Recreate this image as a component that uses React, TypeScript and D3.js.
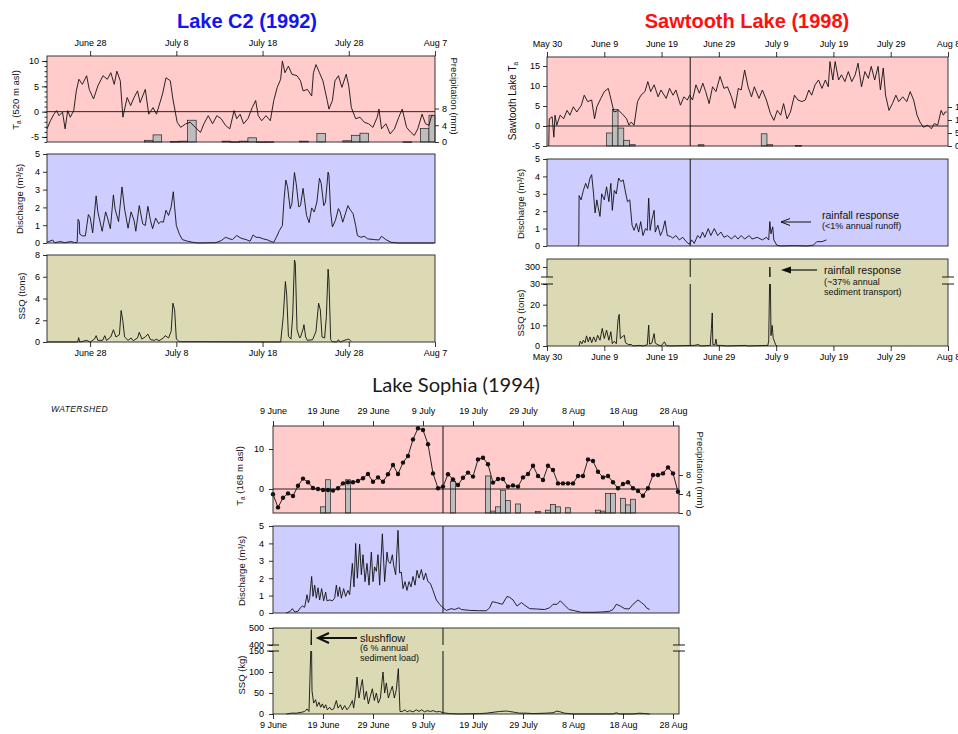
import React, { useEffect, useRef } from "react";
import * as d3 from "d3";

type Pt = [number, number];
const FONT = "'Liberation Sans', Arial, sans-serif";

// ---------- Lake C2 (1992): x = days after June 23 ----------
const c2TickDays = [5, 15, 25, 35, 45];
const c2TickLabels = ["June 28", "July 8", "July 18", "July 28", "Aug 7"];
const c2Temp: Pt[] = [[0,-3.4],[0.4,-1.8],[0.8,-0.5],[1.1,0.2],[1.4,-0.8],[1.8,-0.1],[2.1,-3.4],[2.4,0.2],[2.7,-1.1],[3.1,0.2],[3.4,4.1],[3.7,6.4],[4.1,5.4],[4.6,7.1],[4.9,4.4],[5.4,2.5],[5.9,5.1],[6.5,7.1],[7.0,6.4],[7.4,7.7],[7.8,5.4],[8.1,8.0],[8.5,6.1],[8.8,-1.1],[9.3,2.8],[9.7,1.2],[10.1,2.8],[10.5,4.1],[10.8,1.8],[11.4,4.4],[11.8,-0.5],[12.3,0.8],[12.7,-0.5],[13.4,3.5],[13.8,6.7],[14.3,6.1],[14.6,2.5],[15.1,-2.1],[15.5,-3.1],[16.1,-2.4],[16.6,-2.1],[17.2,-3.1],[17.8,-4.1],[18.2,-2.4],[18.7,-0.8],[19.2,-2.4],[19.7,-0.8],[20.2,-1.4],[20.7,-2.7],[21.2,-3.4],[21.7,0.2],[22.0,-1.4],[22.4,-0.5],[22.8,-2.4],[23.3,-1.4],[23.8,0.8],[24.2,2.2],[24.5,-0.8],[24.9,-1.8],[25.4,-0.8],[25.9,-1.8],[26.3,2.2],[26.7,4.8],[27.1,6.4],[27.3,10.0],[27.6,7.7],[28.0,9.0],[28.4,7.4],[29.0,7.1],[29.4,6.1],[29.7,4.1],[30.2,4.4],[30.7,3.1],[30.9,7.7],[31.2,9.3],[31.6,7.7],[32.0,6.1],[32.5,2.2],[32.7,0.5],[33.1,2.2],[33.4,6.1],[33.8,7.1],[34.2,4.8],[34.7,7.4],[35.0,5.1],[35.3,0.8],[35.8,-1.4],[36.3,-1.1],[36.8,-2.1],[37.3,-2.4],[37.8,-3.1],[38.3,-1.1],[38.5,0.5],[38.8,-3.4],[39.3,-2.4],[39.8,-4.4],[40.3,-3.4],[40.8,-1.1],[41.2,0.5],[41.7,-3.1],[42.2,-4.1],[42.6,-4.7],[43.0,-3.4],[43.5,-0.5],[43.9,-2.4],[44.3,-2.7],[44.6,-0.8],[44.8,-0.8]];
// [bar start day, mm]
const c2Precip: Pt[] = [[11.3,0.4],[12.3,1.7],[14.3,0.1],[15.3,0.2],[16.3,5.2],[20.3,0.2],[21.3,0.05],[22.3,0.2],[23.3,1.0],[24.3,0.05],[25.3,0.05],[29.3,0.2],[31.3,2.0],[34.3,0.3],[35.3,1.6],[36.3,2.1],[41.3,0.05],[43.3,3.2],[44.3,6.4]];
const c2Q: Pt[] = [[0,0.04],[0.66,0.17],[0.85,0.02],[1.6,0.08],[2.0,0.02],[2.8,0.08],[3.2,0.02],[3.5,0.04],[3.6,1.33],[3.75,1.2],[3.8,0.5],[4.1,0.4],[4.45,0.4],[4.8,1.6],[5.0,1.45],[5.3,0.57],[5.7,2.65],[5.9,1.75],[6.4,0.66],[6.8,1.75],[7.0,1.45],[7.35,0.8],[7.7,2.7],[7.9,1.9],[8.3,1.2],[8.7,3.15],[9.0,1.9],[9.4,0.83],[9.75,1.75],[10.1,1.27],[10.3,0.66],[10.7,2.1],[11.1,1.08],[11.4,0.98],[11.7,2.06],[12.0,1.27],[12.25,0.8],[12.6,1.4],[12.95,1.08],[13.2,1.2],[13.5,1.17],[13.8,1.84],[14.1,1.55],[14.4,2.03],[14.65,2.88],[14.8,2.03],[15.0,0.98],[15.35,0.5],[15.7,0.19],[16.3,0.1],[16.9,0.04],[17.5,0],[19.6,0.02],[20.2,0.13],[20.7,0.32],[21.2,0.23],[21.5,0.19],[22.0,0.42],[22.5,0.27],[23.1,0.19],[23.55,0.1],[23.9,0.45],[24.25,0.32],[24.6,0.32],[25.1,0.23],[25.6,0.17],[26.0,0.08],[26.3,0.04],[26.6,0.32],[26.95,0.7],[27.3,0.98],[27.5,2.5],[27.7,3.54],[27.9,3.16],[28.2,1.93],[28.4,2.2],[28.7,3.96],[28.9,3.35],[29.2,2.03],[29.4,2.1],[29.7,3.07],[29.85,2.5],[30.1,1.55],[30.4,1.14],[30.7,1.97],[31.0,1.74],[31.3,2.3],[31.6,3.64],[31.8,3.35],[32.1,2.1],[32.3,2.3],[32.6,3.98],[32.7,3.8],[32.9,1.74],[33.1,0.9],[33.45,1.27],[33.8,1.93],[34.0,1.74],[34.3,1.17],[34.9,2.1],[35.2,1.84],[35.5,1.65],[35.8,0.98],[36.0,0.42],[36.4,0.32],[36.8,0.38],[37.2,0.23],[38.0,0.19],[38.5,0.17],[38.8,0.38],[39.3,0.19],[39.9,0.04],[40.7,0],[44.9,0]];
const c2SSQ: Pt[] = [[0,0],[3.56,0],[3.67,0.4],[3.8,0],[4.6,0.15],[5.0,0],[5.5,0.27],[5.7,0.58],[5.9,0.15],[6.45,0.15],[6.7,0.58],[6.9,0.15],[7.4,0.46],[7.7,1.13],[8.0,0.46],[8.4,0.67],[8.6,2.9],[8.8,1.9],[9.0,0.46],[9.4,0.15],[9.75,0.37],[10.0,0.12],[10.5,0.37],[10.7,0.89],[11.0,0.27],[11.4,0.46],[11.7,0.73],[12.0,0.21],[12.5,0.15],[12.65,0.27],[13.0,0.12],[13.5,0.37],[13.7,0.58],[14.1,0.37],[14.4,0.98],[14.6,3.57],[14.8,2.96],[15.0,0.27],[15.35,0.03],[27.1,0],[27.4,2.35],[27.65,5.56],[27.8,4.34],[28.0,0.52],[28.3,0.27],[28.5,2.5],[28.7,7.54],[28.8,7.24],[29.0,1.13],[29.3,0.37],[29.4,0.46],[29.7,1.19],[29.8,1.59],[30.0,0.46],[30.2,0.15],[30.8,0.21],[31.2,0.98],[31.5,3.57],[31.7,2.96],[31.9,0.46],[32.2,0.37],[32.4,2.35],[32.6,6.69],[32.7,5.7],[32.9,0.21],[33.1,0.03],[33.6,0],[33.8,0.21],[34.0,0],[34.7,0.21],[35.0,0.27],[35.3,0.03]];

// ---------- Sawtooth Lake (1998): x = days after May 30 ----------
const swTickDays = [0, 10, 20, 30, 40, 50, 60, 70];
const swTickLabels = ["May 30", "June 9", "June 19", "June 29", "July 9", "July 19", "July 29", "Aug 8"];
const swMarkDay = 25;
const swTemp: Pt[] = [[0.3,-5],[0.4,1.8],[0.9,2.3],[1.2,-2.8],[1.4,2.7],[1.7,0.2],[2.3,2.7],[2.9,1.8],[3.5,3.9],[4.0,2.7],[4.6,4.8],[5.2,3.5],[6.0,5.2],[6.5,7.7],[7.1,6.1],[7.8,6.5],[8.3,1.8],[8.7,4.8],[9.4,6.9],[10.0,8.6],[10.7,9.4],[11.2,6.5],[11.7,3.5],[12.5,3.9],[13.1,3.1],[13.9,1.8],[14.3,0.2],[14.7,1.0],[15.2,0.2],[15.8,6.1],[16.4,7.7],[17.1,8.6],[17.6,11.1],[18.1,8.6],[18.7,10.3],[19.4,7.3],[19.9,9.0],[20.8,6.9],[21.4,9.4],[22.0,7.7],[22.5,9.0],[23.3,5.2],[23.9,7.3],[24.5,6.5],[24.9,7.7],[25.4,6.5],[26.0,10.3],[26.6,8.2],[27.2,10.7],[27.7,8.6],[28.3,5.6],[28.9,9.8],[29.5,8.6],[30.2,12.4],[30.9,9.4],[31.5,9.8],[32.2,7.3],[32.8,4.4],[33.4,9.4],[33.9,9.0],[34.5,14.0],[35.1,9.8],[35.7,7.3],[36.2,9.8],[37.0,6.9],[37.6,9.0],[38.3,6.5],[39.0,3.1],[39.6,1.4],[40.2,3.9],[40.8,2.7],[41.3,5.6],[41.9,1.8],[42.5,3.5],[43.2,7.7],[43.8,6.5],[44.5,6.1],[45.1,6.5],[45.7,9.0],[46.2,7.7],[46.8,10.3],[47.4,11.5],[48.0,9.4],[48.6,11.5],[49.1,9.8],[49.4,16.1],[49.9,11.5],[50.3,16.1],[50.9,11.5],[51.4,12.8],[52.0,11.1],[52.6,13.6],[53.2,11.1],[53.8,12.8],[54.3,15.7],[54.9,9.8],[55.5,13.6],[56.1,11.9],[56.6,14.9],[57.2,11.5],[57.8,14.9],[58.2,9.0],[58.7,14.5],[59.1,7.7],[59.7,3.9],[60.3,5.6],[60.9,7.7],[61.4,6.1],[62.1,7.3],[62.8,6.1],[63.4,8.6],[64.0,6.5],[64.6,2.7],[65.1,1.0],[65.7,-0.3],[66.5,0.2],[67.1,-0.7],[67.6,0.6],[68.2,0.2],[68.8,3.9],[69.2,2.7],[69.5,3.5],[69.8,3.5]];
const swPrecip: Pt[] = [[10.4,5],[11.4,14.1],[12.4,6.9],[13.4,2.2],[14.4,0.5],[26.4,0.5],[37.4,4.7],[38.4,0.5],[43.4,0.15]];
const swQ: Pt[] = [[5.4,0],[5.55,0.1],[5.6,2.9],[5.95,2.65],[6.35,3.2],[6.75,3.6],[7.1,3.3],[7.5,3.9],[7.8,4.1],[8.1,3.1],[8.4,1.9],[8.7,2.65],[8.95,2.2],[9.25,1.7],[9.55,3.0],[10.0,2.65],[10.4,3.4],[10.8,2.55],[11.15,3.6],[11.4,2.05],[11.75,3.2],[12.1,3.0],[12.5,3.9],[12.9,3.7],[13.3,3.8],[13.7,3.1],[14.05,2.55],[14.45,2.65],[14.85,1.2],[15.2,0.9],[15.6,1.3],[16.0,0.8],[16.35,1.4],[16.75,0.6],[17.2,1.0],[17.5,0.9],[17.75,2.75],[18.0,0.9],[18.3,1.5],[18.7,2.05],[18.9,0.8],[19.35,1.2],[19.8,0.6],[20.2,0.9],[20.6,1.45],[21.0,0.6],[21.55,0.55],[21.95,0.45],[22.5,0.6],[23.1,0.35],[23.7,0.5],[24.3,0.25],[24.85,0.1],[25.25,0.35],[25.7,0.15],[26.3,0.6],[26.75,0.45],[27.15,0.8],[27.55,0.5],[28.15,1.0],[28.6,0.6],[29.2,1.0],[29.8,0.6],[30.35,0.8],[30.9,0.5],[31.5,0.6],[32.2,0.4],[32.8,0.6],[33.35,0.4],[33.9,0.6],[34.5,0.4],[35.3,0.6],[35.8,0.4],[36.7,0.5],[37.6,0.35],[38.3,0.5],[38.7,0.35],[38.9,1.4],[39.1,0.7],[39.4,1.1],[39.6,0.35],[40.1,0.05],[40.75,0],[43.1,0.02],[45.4,0],[46.5,0.05],[47.1,0.25],[48.0,0.25],[48.8,0.35]];
const swSSQ: Pt[] = [[5.6,0],[5.8,2.3],[6.1,1.1],[6.35,2.8],[6.65,1.6],[6.9,4.9],[7.2,2.0],[7.5,4.4],[7.8,1.6],[8.15,4.4],[8.5,2.0],[8.85,5.2],[9.25,2.8],[9.65,8.5],[10.0,3.6],[10.4,7.7],[10.8,2.8],[11.15,6.9],[11.4,1.1],[11.75,2.3],[12.1,1.1],[12.4,12.6],[12.6,15.3],[12.8,3.6],[13.1,4.4],[13.5,5.2],[13.7,1.6],[14.2,0.7],[14.75,0.7],[15.0,0],[16.2,0.3],[16.8,0],[17.5,0.6],[17.75,10.1],[17.9,0.9],[18.3,1.4],[18.7,6.0],[18.9,1.4],[19.35,0.6],[19.9,0],[20.5,2.0],[20.8,0.3],[21.4,0],[25.7,0.3],[26.4,0.7],[26.9,0],[28.5,0.3],[28.7,8.5],[28.85,16],[28.95,0.7],[29.3,0.5],[29.5,3.3],[29.65,0.3],[30.35,0.3],[31.5,0],[34.7,0.3],[35.0,0],[38.55,0.3],[38.7,2.5],[38.9,300],[39.0,30],[39.1,5.0],[39.3,10],[39.5,3.6],[39.7,2.3],[39.9,0.6],[40.2,0]];

// ---------- Lake Sophia (1994): x = days after June 9 ----------
const soTickDays = [0, 10, 20, 30, 40, 50, 60, 70, 80];
const soTickLabels = ["9 June", "19 June", "29 June", "9 July", "19 July", "29 July", "8 Aug", "18 Aug", "28 Aug"];
const soMarkDay = 34;
// daily air temperature, one value per day from June 9
const soTemp = [-1.3,-4.6,-2.2,-1.1,-1.75,0.8,2.6,1.7,0.25,0,-0.25,-0.25,-0.4,0.2,1.4,1.7,1.7,2.0,2.7,3.75,1.8,2.9,1.8,3.7,6.0,3.75,6.6,8.25,12.4,15.2,14.75,11.2,3.9,0.2,0.6,3.7,2.4,1.0,2.8,4.1,3.1,7.4,7.8,6.2,1.6,2.5,2.5,0.6,0.9,0.6,2.9,3.75,5.8,3.25,2.25,5.8,4.75,1.4,1.4,1.4,1.4,3.25,3.25,7.4,7.0,4.3,2.9,3.25,1.7,0.2,1.25,1.7,0.2,-0.5,-1.7,0.2,3.5,3.5,3.9,5.4,3.9,-0.7];
const soPrecip: Pt[] = [[9.5,1.3],[10.5,7.0],[14.5,7.0],[35.5,6.7],[42.5,7.8],[43.5,0.4],[44.5,1.3],[45.5,4.8],[46.5,2.6],[48.5,1.9],[52.5,0.35],[54.5,0.6],[55.5,1.8],[56.5,1.3],[58.5,1.1],[64.5,0.6],[65.5,0.4],[66.5,4.1],[67.5,4.1],[69.5,3.1],[70.5,1.7],[71.5,2.9]];
const soQ: Pt[] = [[2.67,0],[3.47,0.1],[3.87,0.25],[4.33,0.06],[5.0,0.1],[5.47,0.3],[5.87,0.4],[6.33,0.33],[6.8,1.05],[7.07,0.6],[7.33,0.85],[7.73,2.1],[8.0,0.95],[8.33,1.6],[8.67,0.85],[9.0,1.45],[9.33,0.75],[9.73,1.4],[10.13,0.7],[10.53,1.2],[10.8,0.7],[11.33,0.75],[11.87,0.7],[12.33,0.85],[12.67,1.6],[13.0,0.95],[13.33,1.5],[13.67,0.85],[14.13,1.4],[14.53,0.95],[15.0,1.3],[15.33,1.05],[15.87,2.85],[16.2,1.5],[16.53,4.0],[16.87,2.0],[17.33,3.95],[17.67,2.2],[18.0,3.35],[18.4,1.8],[18.8,2.85],[19.2,1.6],[19.67,3.5],[20.0,1.8],[20.33,2.65],[20.67,2.4],[21.0,3.35],[21.33,1.6],[21.87,4.55],[22.33,1.8],[22.8,3.5],[23.07,2.95],[23.47,2.85],[23.87,3.35],[24.13,2.75],[24.53,2.2],[25.0,4.75],[25.33,2.3],[25.67,2.35],[26.0,1.4],[26.4,1.8],[26.8,1.3],[27.2,1.8],[27.6,1.5],[28.0,2.1],[28.4,1.6],[28.8,2.45],[29.2,2.0],[29.67,2.5],[30.13,1.9],[30.53,2.3],[31.0,1.8],[31.47,1.7],[32.0,1.3],[32.67,0.75],[33.33,0.5],[34.0,0.3],[34.67,0.15],[35.67,0.25],[36.33,0.2],[37.2,0.3],[37.67,0.2],[39.33,0.15],[41.33,0.13],[42.67,0.13],[43.33,0.3],[43.87,0.65],[44.67,0.6],[45.87,0.5],[46.8,0.95],[47.33,0.9],[48.0,0.75],[48.8,0.4],[49.67,0.6],[50.33,0.45],[51.33,0.25],[52.67,0.23],[54.33,0.2],[55.33,0.3],[56.0,0.5],[56.8,0.5],[57.47,0.7],[58.33,0.45],[59.2,0.2],[60.33,0.13],[61.67,0.04],[64.0,0.04],[66.0,0.06],[67.33,0.1],[68.0,0.2],[68.67,0.5],[69.47,0.4],[70.33,0.25],[71.2,0.23],[72.0,0.5],[73.0,0.75],[73.67,0.6],[74.33,0.45],[74.67,0.3],[75.33,0.2]];
const soSSQ: Pt[] = [[2.67,0],[3.67,2],[4.67,2],[5.67,4],[6.33,6],[6.8,12],[7.2,6],[7.67,490],[7.8,55],[8.13,26],[8.53,34],[8.8,18],[9.2,28],[9.53,16],[9.87,24],[10.2,14],[10.53,22],[10.87,10],[11.33,16],[11.67,10],[12.13,12],[12.67,32],[13.0,14],[13.47,22],[13.87,10],[14.33,20],[14.8,10],[15.33,18],[15.87,32],[16.13,14],[16.53,47],[16.8,88],[17.2,38],[17.6,66],[17.87,82],[18.27,34],[18.67,54],[19.07,24],[19.47,42],[19.87,60],[20.27,32],[20.67,50],[21.07,26],[21.47,38],[22.0,100],[22.33,50],[22.67,74],[23.07,38],[23.47,53],[23.87,66],[24.27,38],[24.67,58],[25.07,108],[25.4,6],[25.87,6],[26.4,10],[26.8,5],[27.33,8],[28.0,5],[28.67,10],[29.2,6],[29.73,10],[30.33,5],[30.8,8],[31.47,6],[32.0,8],[32.67,5],[33.33,6],[34.0,3],[35.33,1],[37.33,0],[41.33,1],[42.67,2],[44.0,4],[45.33,6],[46.67,7],[47.33,6],[48.33,4],[49.33,2],[50.67,2],[52.0,1],[54.67,2],[56.0,3],[56.8,7],[57.47,5],[58.33,2],[60.0,0],[68.0,0],[68.67,3],[69.33,0],[72.0,0],[73.33,2],[74.33,1],[75.33,0]];

// ---------- scales ----------
const xC2 = d3.scaleLinear().domain([0, 45]).range([47, 435]);
const yC2T = d3.scaleLinear().domain([-6, 11]).range([142, 56]);
const yC2P = d3.scaleLinear().domain([0, 8]).range([142, 108.5]);
const yC2Q = d3.scaleLinear().domain([0, 5]).range([243, 154]);
const yC2S = d3.scaleLinear().domain([0, 8]).range([342, 255]);

const xSW = d3.scaleLinear().domain([0, 70]).range([547, 948]);
const ySWT = d3.scaleLinear().domain([-5, 17.25]).range([146, 57]);
const ySWP = d3.scaleLinear().domain([0, 15]).range([146, 107]);
const ySWQ = d3.scaleLinear().domain([0, 5]).range([246, 159]);
const ySWSlo = d3.scaleLinear().domain([0, 30]).range([346, 284]);
const ySWShi = d3.scaleLinear().domain([250, 340]).range([277, 259]);

const xSO = d3.scaleLinear().domain([0, 81.2]).range([273, 679]);
const ySOT = d3.scaleLinear().domain([-6, 15.75]).range([513, 426]);
const ySOP = d3.scaleLinear().domain([0, 8]).range([513, 475]);
const ySOQ = d3.scaleLinear().domain([0, 5]).range([613, 526]);
const ySOSlo = d3.scaleLinear().domain([0, 150]).range([714, 651]);
const ySOShi = d3.scaleLinear().domain([400, 500]).range([645, 628]);

const broken = (lo: d3.ScaleLinear<number, number>, hi: d3.ScaleLinear<number, number>) =>
  (v: number) => (v <= lo.domain()[1] ? lo(v) : hi(v));

const PINK = "#FFCBCB";
const BLUE = "#CDCDFF";
const OLIVE = "#DCDAB4";

function Axis({ orient, scale, at, values, labels, size = 4, pad = 3, fs = 9 }: any) {
  const ref = useRef<SVGGElement>(null);
  useEffect(() => {
    const make = { left: d3.axisLeft, right: d3.axisRight, top: d3.axisTop, bottom: d3.axisBottom }[orient as string] as any;
    const axis = make(scale)
      .tickValues(values)
      .tickSize(size)
      .tickPadding(pad)
      .tickFormat((d: number, i: number) => (labels ? labels[i] ?? "" : String(d)));
    const g = d3.select(ref.current!);
    g.call(axis);
    g.attr("font-size", fs).attr("font-family", FONT);
    g.select(".domain").remove();
    g.selectAll("line").attr("stroke", "#000").attr("stroke-width", 0.8);
  }, []);
  const t = orient === "left" || orient === "right" ? `translate(${at},0)` : `translate(0,${at})`;
  return <g ref={ref} transform={t} />;
}

function Line({ data, x, y, w = 0.9 }: { data: Pt[]; x: any; y: any; w?: number }) {
  const gen = d3.line<Pt>().x((d) => x(d[0])).y((d) => y(d[1]));
  return <path d={gen(data) ?? ""} fill="none" stroke="#111" strokeWidth={w} strokeLinejoin="round" />;
}

function Bars({ data, x, y, xmax }: { data: Pt[]; x: any; y: any; xmax: number }) {
  return (
    <g>
      {data.map(([s, v], i) => {
        const x0 = x(s);
        const x1 = Math.min(x(s + 1), xmax);
        return (
          <rect key={i} x={x0} y={y(v)} width={x1 - x0} height={Math.max(y(0) - y(v), 0.6)}
            fill="#BDBDBD" stroke="#222" strokeWidth={0.7} />
        );
      })}
    </g>
  );
}

function Frame({ x, y, fill }: { x: any; y: any; fill: string }) {
  const [x0, x1] = x.range();
  const ys = y.range();
  const y0 = Math.min(...ys), y1 = Math.max(...ys);
  return <rect x={x0} y={y0} width={x1 - x0} height={y1 - y0} fill={fill} />;
}
function Border({ x0, x1, y0, y1 }: any) {
  return <rect x={x0} y={y0} width={x1 - x0} height={y1 - y0} fill="none" stroke="#222" strokeWidth={0.9} />;
}

function Break({ x0, x1, yTop, yBot, fill }: any) {
  return (
    <g>
      <rect x={x0 - 1} y={yTop} width={x1 - x0 + 2} height={yBot - yTop} fill={fill} />
      <rect x={x0 - 7} y={yTop} width={6} height={yBot - yTop} fill="#fff" />
      <rect x={x1 + 1} y={yTop} width={6} height={yBot - yTop} fill="#fff" />
      {[yTop, yBot].map((yy) => (
        <g key={yy}>
          <line x1={x0 - 6} x2={x0 + 6} y1={yy} y2={yy} stroke="#000" strokeWidth={0.9} />
          <line x1={x1 - 6} x2={x1 + 6} y1={yy} y2={yy} stroke="#000" strokeWidth={0.9} />
        </g>
      ))}
    </g>
  );
}

function VLabel({ x, y, children, fs = 9.5, dir = -90 }: any) {
  return (
    <text transform={`translate(${x},${y}) rotate(${dir})`} textAnchor="middle" fontSize={fs} fill="#111">
      {children}
    </text>
  );
}

const Ta = ({ rest }: { rest: string }) => (
  <>
    T<tspan fontSize={6.5} dy={2}>a</tspan>
    <tspan dy={-2}>{rest}</tspan>
  </>
);

export default function App() {
  const ySWS = broken(ySWSlo, ySWShi);
  const ySOS = broken(ySOSlo, ySOShi);
  const c2Minor = d3.range(-6, 11, 1);
  const soTempPts: Pt[] = soTemp.map((v, i) => [i, v]);

  return (
    <svg width={958} height={734} style={{ position: "absolute", left: 0, top: 0, background: "#fff" }}
      fontFamily={FONT}>
      {/* ================= Lake C2 ================= */}
      <text x={247} y={28} textAnchor="middle" fontSize={20} fontWeight="bold" fill="#1414EE">Lake C2 (1992)</text>
      <Frame x={xC2} y={yC2T} fill={PINK} />
      <Bars data={c2Precip} x={xC2} y={yC2P} xmax={435} />
      <line x1={47} x2={435} y1={yC2T(0)} y2={yC2T(0)} stroke="#111" strokeWidth={0.9} />
      <Line data={c2Temp} x={xC2} y={yC2T} />
      <Border x0={47} x1={435} y0={56} y1={142} />
      <Axis orient="top" scale={xC2} at={56} values={c2TickDays} labels={c2TickLabels} size={5} pad={5} />
      <Axis orient="left" scale={yC2T} at={47} values={[-5, 0, 5, 10]} size={5} pad={3} />
      <Axis orient="left" scale={yC2T} at={47} values={c2Minor} labels={[]} size={2.5} pad={0} />
      <Axis orient="right" scale={yC2P} at={435} values={[0, 4, 8]} size={4} pad={3} />
      <VLabel x={19} y={100}><Ta rest=" (520 m asl)" /></VLabel>
      <VLabel x={451} y={96} dir={90}>Precipitation (mm)</VLabel>

      <Frame x={xC2} y={yC2Q} fill={BLUE} />
      <Line data={c2Q} x={xC2} y={yC2Q} />
      <Border x0={47} x1={435} y0={154} y1={243} />
      <Axis orient="left" scale={yC2Q} at={47} values={[0, 1, 2, 3, 4, 5]} size={4} pad={3} />
      <VLabel x={23} y={199}>Discharge (m³/s)</VLabel>

      <Frame x={xC2} y={yC2S} fill={OLIVE} />
      <Line data={c2SSQ} x={xC2} y={yC2S} />
      <Border x0={47} x1={435} y0={255} y1={342} />
      <Axis orient="left" scale={yC2S} at={47} values={[0, 2, 4, 6, 8]} size={4} pad={3} />
      <Axis orient="bottom" scale={xC2} at={342} values={c2TickDays} labels={c2TickLabels} size={5} pad={3} />
      <VLabel x={25} y={296}>SSQ (tons)</VLabel>

      {/* ================= Sawtooth Lake ================= */}
      <text x={747} y={28} textAnchor="middle" fontSize={20} fontWeight="bold" fill="#FF1010">Sawtooth Lake (1998)</text>
      <Frame x={xSW} y={ySWT} fill={PINK} />
      <Bars data={swPrecip} x={xSW} y={ySWP} xmax={948} />
      <line x1={547} x2={948} y1={ySWT(0)} y2={ySWT(0)} stroke="#111" strokeWidth={0.9} />
      <Line data={swTemp} x={xSW} y={ySWT} />
      <line x1={xSW(swMarkDay)} x2={xSW(swMarkDay)} y1={57} y2={146} stroke="#111" strokeWidth={1} />
      <Border x0={547} x1={948} y0={57} y1={146} />
      <Axis orient="top" scale={xSW} at={57} values={swTickDays} labels={swTickLabels} size={5} pad={5} />
      <Axis orient="left" scale={ySWT} at={547} values={[-5, 0, 5, 10, 15]} size={4} pad={3} />
      <Axis orient="right" scale={ySWP} at={948} values={[0, 5, 10, 15]} size={4} pad={3} />
      <VLabel x={516} y={101} fs={10}>
        Sawtooth Lake T<tspan fontSize={6.5} dy={2}>a</tspan>
      </VLabel>

      <Frame x={xSW} y={ySWQ} fill={BLUE} />
      <Line data={swQ} x={xSW} y={ySWQ} />
      <line x1={xSW(swMarkDay)} x2={xSW(swMarkDay)} y1={159} y2={246} stroke="#111" strokeWidth={1} />
      <Border x0={547} x1={948} y0={159} y1={246} />
      <Axis orient="left" scale={ySWQ} at={547} values={[0, 1, 2, 3, 4, 5]} size={4} pad={3} />
      <VLabel x={524} y={204}>Discharge (m³/s)</VLabel>
      <line x1={781} x2={811} y1={222} y2={222} stroke="#111" strokeWidth={1} />
      <polyline points="790,218.5 781,222 790,225.5" fill="none" stroke="#111" strokeWidth={1} />
      <text x={822} y={219} fontSize={10.5} fill="#111">rainfall response</text>
      <text x={822} y={229} fontSize={9} fill="#111">(&lt;1% annual runoff)</text>

      <Frame x={xSW} y={ySWSlo} fill={OLIVE} />
      <rect x={547} y={259} width={401} height={25} fill={OLIVE} />
      <Line data={swSSQ} x={xSW} y={ySWS} />
      <line x1={xSW(swMarkDay)} x2={xSW(swMarkDay)} y1={259} y2={346} stroke="#111" strokeWidth={1} />
      <Border x0={547} x1={948} y0={259} y1={346} />
      <Break x0={547} x1={948} yTop={277} yBot={284} fill={OLIVE} />
      <Axis orient="left" scale={ySWSlo} at={547} values={[0, 10, 20, 30]} size={4} pad={3} />
      <Axis orient="left" scale={ySWShi} at={547} values={[300]} size={4} pad={3} />
      <Axis orient="bottom" scale={xSW} at={346} values={swTickDays} labels={swTickLabels} size={5} pad={3} />
      <VLabel x={524} y={313}>SSQ (tons)</VLabel>
      <line x1={788} x2={817} y1={270} y2={270} stroke="#111" strokeWidth={1.2} />
      <polygon points="781,270 791,266.5 791,273.5" fill="#111" />
      <text x={824} y={274} fontSize={10.5} fill="#111">rainfall response</text>
      <text x={824} y={285} fontSize={9} fill="#111">(~37% annual</text>
      <text x={824} y={295} fontSize={9} fill="#111">sediment transport)</text>

      {/* ================= Lake Sophia ================= */}
      <text x={456} y={392} textAnchor="middle" fontSize={20} fontFamily="Lato, sans-serif" fill="#1a1a1a"
        textLength={168} lengthAdjust="spacingAndGlyphs">Lake Sophia (1994)</text>
      <text x={51} y={412} fontSize={8.5} fontStyle="italic" fill="#111" letterSpacing={0.4}>WATERSHED</text>

      <Frame x={xSO} y={ySOT} fill={PINK} />
      <Bars data={soPrecip} x={xSO} y={ySOP} xmax={679} />
      <line x1={273} x2={679} y1={ySOT(0)} y2={ySOT(0)} stroke="#111" strokeWidth={0.9} />
      <Line data={soTempPts} x={xSO} y={ySOT} />
      {soTempPts.map(([d, v]) => (
        <circle key={d} cx={xSO(d)} cy={ySOT(v)} r={2.2} fill="#111" />
      ))}
      <line x1={xSO(soMarkDay)} x2={xSO(soMarkDay)} y1={426} y2={513} stroke="#111" strokeWidth={1} />
      <Border x0={273} x1={679} y0={426} y1={513} />
      <Axis orient="top" scale={xSO} at={426} values={soTickDays} labels={soTickLabels} size={5} pad={7} />
      <Axis orient="left" scale={ySOT} at={273} values={[0, 10]} size={4} pad={5} />
      <Axis orient="right" scale={ySOP} at={679} values={[0, 4, 8]} size={4} pad={3} />
      <VLabel x={243} y={476}><Ta rest=" (168 m asl)" /></VLabel>
      <VLabel x={697} y={470} dir={90}>Precipitation (mm)</VLabel>

      <Frame x={xSO} y={ySOQ} fill={BLUE} />
      <Line data={soQ} x={xSO} y={ySOQ} />
      <line x1={xSO(soMarkDay)} x2={xSO(soMarkDay)} y1={526} y2={613} stroke="#111" strokeWidth={1} />
      <Border x0={273} x1={679} y0={526} y1={613} />
      <Axis orient="left" scale={ySOQ} at={273} values={[0, 1, 2, 3, 4, 5]} size={4} pad={5} />
      <VLabel x={245} y={571}>Discharge (m³/s)</VLabel>

      <Frame x={xSO} y={ySOSlo} fill={OLIVE} />
      <rect x={273} y={628} width={406} height={23} fill={OLIVE} />
      <Line data={soSSQ} x={xSO} y={ySOS} />
      <line x1={xSO(soMarkDay)} x2={xSO(soMarkDay)} y1={628} y2={714} stroke="#111" strokeWidth={1} />
      <Border x0={273} x1={679} y0={628} y1={714} />
      <Break x0={273} x1={679} yTop={645} yBot={651} fill={OLIVE} />
      <Axis orient="left" scale={ySOSlo} at={273} values={[0, 50, 100, 150]} size={4} pad={5} />
      <Axis orient="left" scale={ySOShi} at={273} values={[400, 500]} size={4} pad={5} />
      <Axis orient="bottom" scale={xSO} at={714} values={soTickDays} labels={soTickLabels} size={5} pad={3} />
      <VLabel x={245} y={675}>SSQ (kg)</VLabel>
      <line x1={320} x2={357} y1={638} y2={638} stroke="#111" strokeWidth={2} />
      <polyline points="329,633 318,638 329,643" fill="none" stroke="#111" strokeWidth={2} />
      <text x={360} y={642} fontSize={11} fill="#111">slushflow</text>
      <text x={360} y={651} fontSize={9} fill="#111">(6 % annual</text>
      <text x={360} y={661} fontSize={9} fill="#111">sediment load)</text>
    </svg>
  );
}
